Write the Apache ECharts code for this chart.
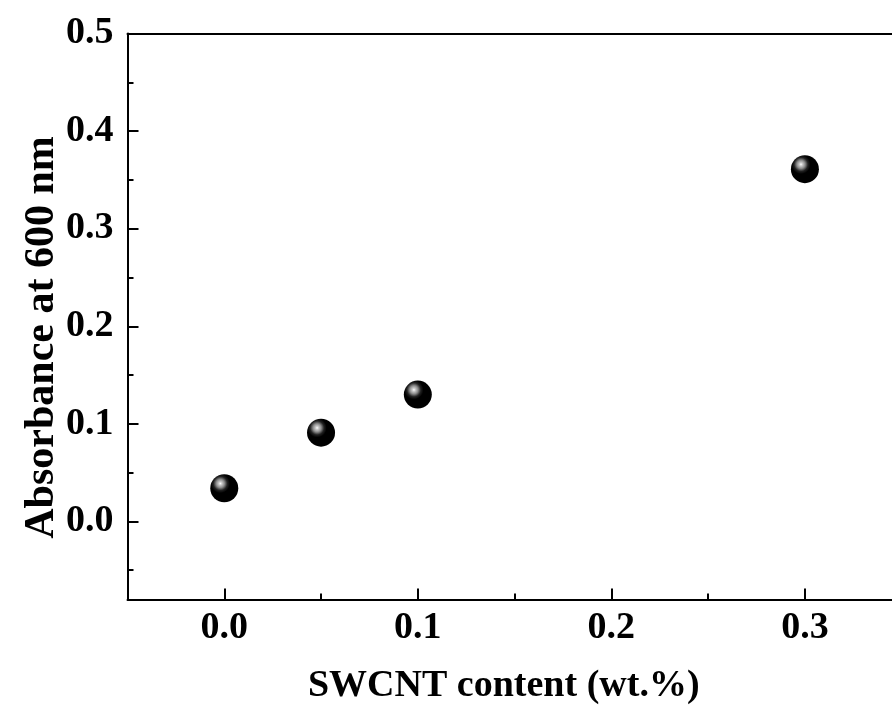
<!DOCTYPE html>
<html>
<head>
<meta charset="utf-8">
<script src="https://cdn.jsdelivr.net/npm/echarts@6/dist/echarts.min.js"></script>
<style>
html,body{margin:0;padding:0;background:#fff;}
#chart{width:892px;height:715px;}
</style>
</head>
<body>
<div id="chart"></div>
<script>
// Data
var swcntContent = [0, 0.05, 0.1, 0.3];
var absorbance = [0.034, 0.091, 0.130, 0.361];
var xMajorTicks = [0, 0.1, 0.2, 0.3];
var xMinorTicks = [0.05, 0.15, 0.25];
var yMajorTicks = [0, 0.1, 0.2, 0.3, 0.4, 0.5];
var yMinorTicks = [-0.05, 0.05, 0.15, 0.25, 0.35, 0.45];
var xTitle = 'SWCNT content (wt.%)';
var yTitle = 'Absorbance at 600 nm';

var FONT = "'Liberation Serif', 'Times New Roman', serif";
var chart = echarts.init(document.getElementById('chart'));

var points = swcntContent.map(function (x, i) { return [x, absorbance[i]]; });

var labelStyle = { fontFamily: FONT, fontWeight: 'bold', fontSize: 38, color: '#000' };
var X_MIN = -0.05, X_MAX = 0.345;

var option = {
  animation: false,
  backgroundColor: '#fff',
  grid: {
    left: 127.5, top: 33.5, right: 0, bottom: 115.5, show: false
  },
  xAxis: [{
    type: 'value', min: X_MIN, max: X_MAX, position: 'bottom',
    splitLine: { show: false },
    axisLine: { show: true, onZero: false, lineStyle: { color: '#000', width: 2 } },
    axisTick: { show: true, inside: true, length: 11, lineStyle: { color: '#000', width: 2 }, customValues: xMajorTicks },
    axisLabel: Object.assign({ margin: 10, customValues: xMajorTicks, formatter: function (v) { return v.toFixed(1); } }, labelStyle),
    name: xTitle, nameLocation: 'middle', nameGap: 68,
    nameTextStyle: { fontFamily: FONT, fontWeight: 'bold', fontSize: 38, color: '#000', padding: [0, 12, 0, 0] }
  }, {
    type: 'value', min: X_MIN, max: X_MAX, position: 'bottom',
    splitLine: { show: false },
    axisLine: { show: false, onZero: false },
    axisTick: { show: true, inside: true, length: 6, lineStyle: { color: '#000', width: 2 }, customValues: xMinorTicks },
    axisLabel: { show: false }
  }, {
    type: 'value', min: X_MIN, max: X_MAX, position: 'top',
    splitLine: { show: false },
    axisLine: { show: true, onZero: false, lineStyle: { color: '#000', width: 2 } },
    axisTick: { show: false },
    axisLabel: { show: false }
  }],
  yAxis: [{
    type: 'value', min: -0.08, max: 0.5, position: 'left',
    splitLine: { show: false },
    axisLine: { show: true, onZero: false, lineStyle: { color: '#000', width: 2 } },
    axisTick: { show: true, inside: true, length: 11, lineStyle: { color: '#000', width: 2 }, customValues: yMajorTicks },
    axisLabel: Object.assign({ margin: 14, customValues: yMajorTicks, formatter: function (v) { return v.toFixed(1); } }, labelStyle),
    name: yTitle, nameLocation: 'middle', nameGap: 64, nameRotate: 90, nameMoveOverlap: false,
    nameTextStyle: { fontFamily: FONT, fontWeight: 'bold', fontSize: 42, color: '#000', padding: [0, 42, 0, 0] }
  }, {
    type: 'value', min: -0.08, max: 0.5, position: 'left',
    splitLine: { show: false },
    axisLine: { show: false, onZero: false },
    axisTick: { show: true, inside: true, length: 6, lineStyle: { color: '#000', width: 2 }, customValues: yMinorTicks },
    axisLabel: { show: false }
  }],
  series: [{
    type: 'scatter',
    xAxisIndex: 0, yAxisIndex: 0,
    data: points,
    symbol: 'circle',
    symbolSize: 28,
    itemStyle: {
      color: {
        type: 'radial', x: 0.36, y: 0.33, r: 0.62,
        colorStops: [
          { offset: 0, color: '#ffffff' },
          { offset: 0.08, color: '#d0d0d0' },
          { offset: 0.24, color: '#8a8a8a' },
          { offset: 0.4, color: '#222222' },
          { offset: 0.55, color: '#000000' },
          { offset: 1, color: '#000000' }
        ]
      },
      opacity: 1
    }
  }]
};
chart.setOption(option);
</script>
</body>
</html>
